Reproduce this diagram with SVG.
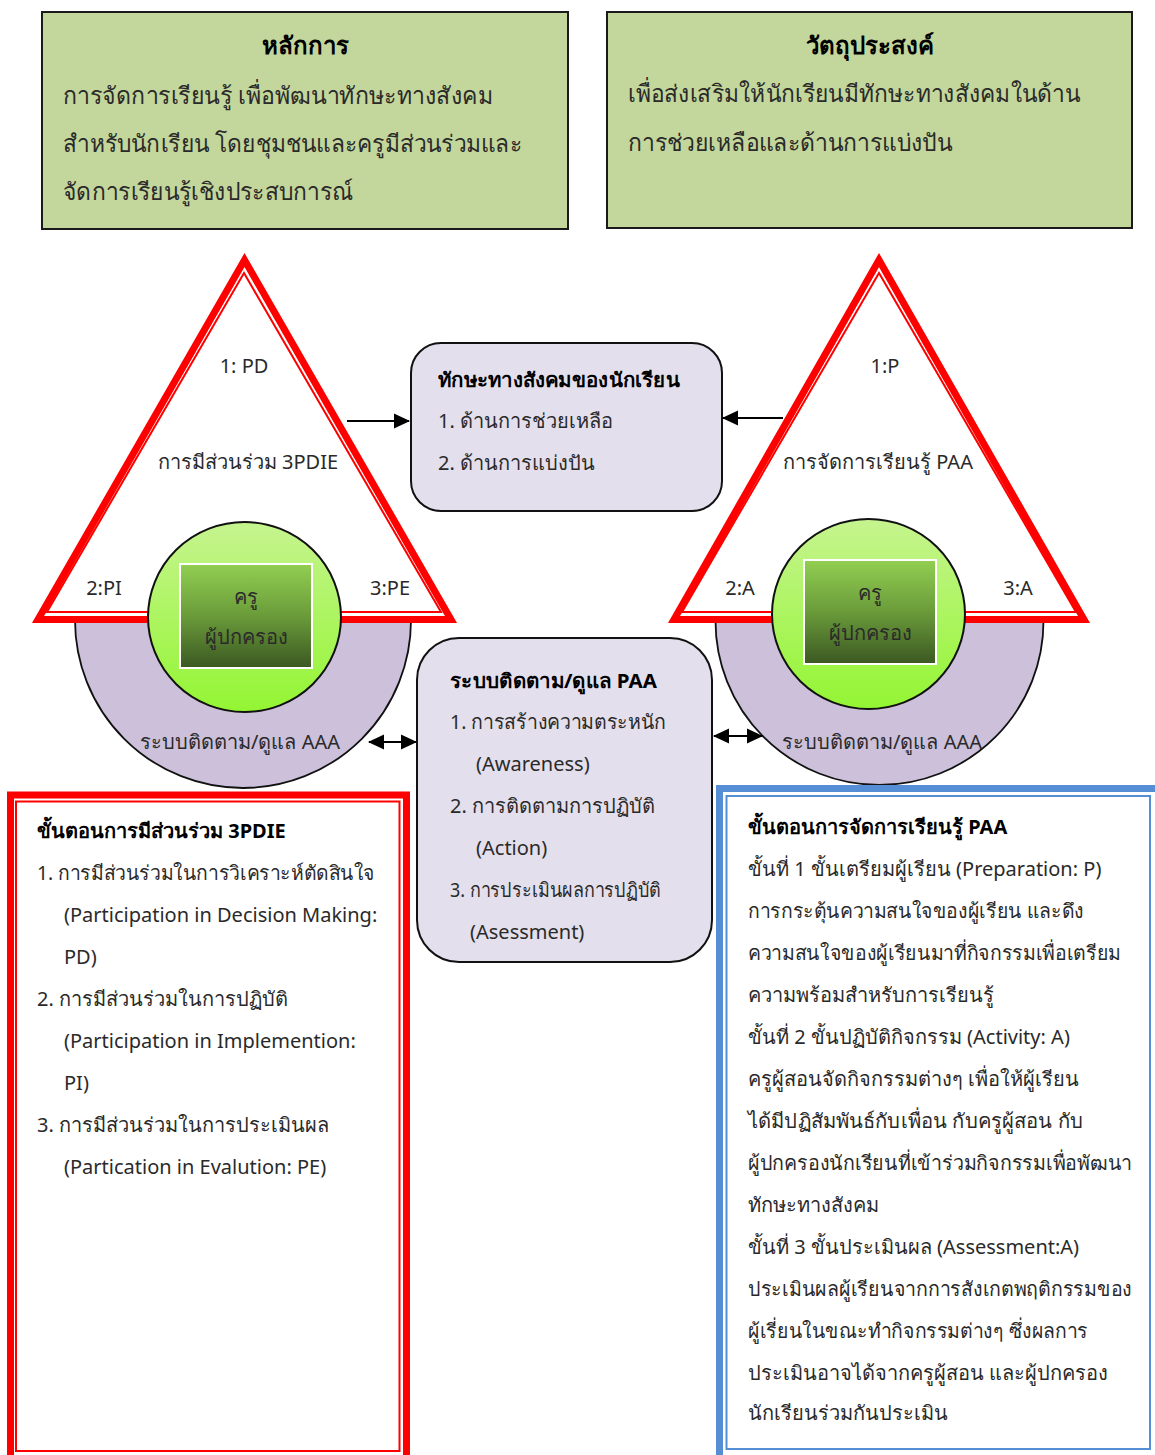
<svg xmlns="http://www.w3.org/2000/svg" width="1155" height="1455" viewBox="0 0 1155 1455">
<defs>
<style>
text{font-family:"Noto Sans","DejaVu Sans",sans-serif;fill:#2a2a2a}
.t24{font-size:24px}
.t20{font-size:20px}
.b{font-weight:bold;fill:#000}
.mid{text-anchor:middle}
.gbox{fill:#c3d69b;stroke:#1a1a1a;stroke-width:2}
.pbox{fill:#e4dfec;stroke:#111;stroke-width:2}
.purple{fill:#ccc0da;stroke:#111;stroke-width:1.8}
.tri{fill:#fff;stroke:#ff0000;stroke-width:7;stroke-linejoin:miter;stroke-miterlimit:10}
.tri2{fill:none;stroke:#ff0000;stroke-width:2}
.gcirc{fill:url(#gc);stroke:#111;stroke-width:2}
.gsq{fill:url(#gs);stroke:#fff;stroke-width:2}
.conn{stroke:#000;stroke-width:2;fill:none}
</style>
<linearGradient id="gc" x1="0" y1="0" x2="0" y2="1">
<stop offset="0" stop-color="#c6f48f"/>
<stop offset="1" stop-color="#93f533"/>
</linearGradient>
<linearGradient id="gs" x1="0" y1="0" x2="0" y2="1">
<stop offset="0" stop-color="#92cf52"/>
<stop offset="0.5" stop-color="#6a9b3a"/>
<stop offset="1" stop-color="#3b5822"/>
</linearGradient>
<marker id="ah" markerUnits="userSpaceOnUse" markerWidth="16" markerHeight="16" viewBox="0 0 16 16" refX="15" refY="8" orient="auto-start-reverse">
<path d="M0,0.5 L16,8 L0,15.5 Z" fill="#000"/>
</marker>
</defs>

<g id="principle">
<rect class="gbox" x="42" y="12" width="526" height="217"/>
<text class="t24 b mid" x="305" y="54">หลักการ</text>
<text class="t24" x="63" y="104" textLength="430" lengthAdjust="spacingAndGlyphs">การจัดการเรียนรู้ เพื่อพัฒนาทักษะทางสังคม</text>
<text class="t24" x="63" y="152" textLength="459" lengthAdjust="spacingAndGlyphs">สำหรับนักเรียน โดยชุมชนและครูมีส่วนร่วมและ</text>
<text class="t24" x="63" y="200" textLength="290" lengthAdjust="spacingAndGlyphs">จัดการเรียนรู้เชิงประสบการณ์</text>
</g>

<g id="objective">
<rect class="gbox" x="607" y="12" width="525" height="216"/>
<text class="t24 b mid" x="870" y="54">วัตถุประสงค์</text>
<text class="t24" x="628" y="102" textLength="452" lengthAdjust="spacingAndGlyphs">เพื่อส่งเสริมให้นักเรียนมีทักษะทางสังคมในด้าน</text>
<text class="t24" x="628" y="151" textLength="324" lengthAdjust="spacingAndGlyphs">การช่วยเหลือและด้านการแบ่งปัน</text>
</g>

<g id="left-pyramid">
<circle class="purple" cx="243" cy="620" r="168"/>
<polygon class="tri" points="244.5,260 38,619.5 451,619.5"/>
<polygon class="tri2" points="244,273 47,612 441,612"/>
<ellipse class="gcirc" cx="244.5" cy="617" rx="96.5" ry="95"/>
<rect class="gsq" x="180" y="564" width="132" height="104"/>
<text class="t20 mid" x="246" y="604">ครู</text>
<text class="t20 mid" x="246" y="644">ผู้ปกครอง</text>
<text class="t20 mid" x="244" y="373">1: PD</text>
<text class="t20 mid" x="248" y="469">การมีส่วนร่วม 3PDIE</text>
<text class="t20 mid" x="104" y="595">2:PI</text>
<text class="t20 mid" x="390" y="595">3:PE</text>
<text class="t20 mid" x="240" y="749">ระบบติดตาม/ดูแล AAA</text>
</g>

<g id="right-pyramid">
<circle class="purple" cx="879.5" cy="621" r="164"/>
<polygon class="tri" points="879,260 674,619.5 1084,619.5"/>
<polygon class="tri2" points="879,273 682,612 1076,612"/>
<ellipse class="gcirc" cx="868.5" cy="614" rx="96.5" ry="95"/>
<rect class="gsq" x="804" y="560" width="132" height="104"/>
<text class="t20 mid" x="870" y="600">ครู</text>
<text class="t20 mid" x="870" y="640">ผู้ปกครอง</text>
<text class="t20 mid" x="885" y="373">1:P</text>
<text class="t20 mid" x="878" y="469">การจัดการเรียนรู้ PAA</text>
<text class="t20 mid" x="740" y="595">2:A</text>
<text class="t20 mid" x="1018" y="595">3:A</text>
<text class="t20 mid" x="882" y="749">ระบบติดตาม/ดูแล AAA</text>
</g>

<g id="social-skills">
<rect class="pbox" x="411" y="343" width="311" height="168" rx="30"/>
<text class="t20 b" x="438" y="387" textLength="242" lengthAdjust="spacingAndGlyphs">ทักษะทางสังคมของนักเรียน</text>
<text class="t20" x="438" y="428">1. ด้านการช่วยเหลือ</text>
<text class="t20" x="438" y="470">2. ด้านการแบ่งปัน</text>
</g>

<g id="monitoring-paa">
<rect class="pbox" x="417" y="638" width="295" height="324" rx="42"/>
<text class="t20 b" x="450" y="688" textLength="207" lengthAdjust="spacingAndGlyphs">ระบบติดตาม/ดูแล PAA</text>
<text class="t20" x="450" y="729" textLength="216" lengthAdjust="spacingAndGlyphs">1. การสร้างความตระหนัก</text>
<text class="t20" x="476" y="771">(Awareness)</text>
<text class="t20" x="450" y="813">2. การติดตามการปฏิบัติ</text>
<text class="t20" x="476" y="855">(Action)</text>
<text class="t20" x="450" y="897" textLength="211" lengthAdjust="spacingAndGlyphs">3. การประเมินผลการปฏิบัติ</text>
<text class="t20" x="470" y="939">(Asessment)</text>
</g>

<g id="steps-3pdie">
<rect x="10.5" y="795" width="396" height="700" fill="#fff" stroke="#ff0000" stroke-width="7"/>
<rect x="16" y="801.5" width="383.5" height="649.5" fill="none" stroke="#ff0000" stroke-width="2"/>
<text class="t20 b" x="37" y="838">ขั้นตอนการมีส่วนร่วม 3PDIE</text>
<text class="t20" x="37" y="880" textLength="338" lengthAdjust="spacingAndGlyphs">1. การมีส่วนร่วมในการวิเคราะห์ตัดสินใจ</text>
<text class="t20" x="64" y="922">(Participation in Decision Making:</text>
<text class="t20" x="64" y="964">PD)</text>
<text class="t20" x="37" y="1006">2. การมีส่วนร่วมในการปฏิบัติ</text>
<text class="t20" x="64" y="1048">(Participation in Implemention:</text>
<text class="t20" x="64" y="1090">PI)</text>
<text class="t20" x="37" y="1132">3. การมีส่วนร่วมในการประเมินผล</text>
<text class="t20" x="64" y="1174">(Partication in Evalution: PE)</text>
</g>

<g id="steps-paa">
<rect x="719.5" y="788.5" width="500" height="700" fill="#fff" stroke="#558ed5" stroke-width="7"/>
<rect x="726.5" y="796" width="423.5" height="653" fill="none" stroke="#558ed5" stroke-width="2"/>
<text class="t20 b" x="748" y="834">ขั้นตอนการจัดการเรียนรู้ PAA</text>
<text class="t20" x="748" y="876">ขั้นที่ 1 ขั้นเตรียมผู้เรียน (Preparation: P)</text>
<text class="t20" x="748" y="918" textLength="336" lengthAdjust="spacingAndGlyphs">การกระตุ้นความสนใจของผู้เรียน และดึง</text>
<text class="t20" x="748" y="960" textLength="373" lengthAdjust="spacingAndGlyphs">ความสนใจของผู้เรียนมาที่กิจกรรมเพื่อเตรียม</text>
<text class="t20" x="748" y="1002">ความพร้อมสำหรับการเรียนรู้</text>
<text class="t20" x="748" y="1044">ขั้นที่ 2 ขั้นปฏิบัติกิจกรรม (Activity: A)</text>
<text class="t20" x="748" y="1086">ครูผู้สอนจัดกิจกรรมต่างๆ เพื่อให้ผู้เรียน</text>
<text class="t20" x="748" y="1128" textLength="335" lengthAdjust="spacingAndGlyphs">ได้มีปฏิสัมพันธ์กับเพื่อน กับครูผู้สอน กับ</text>
<text class="t20" x="748" y="1170" textLength="384" lengthAdjust="spacingAndGlyphs">ผู้ปกครองนักเรียนที่เข้าร่วมกิจกรรมเพื่อพัฒนา</text>
<text class="t20" x="748" y="1212">ทักษะทางสังคม</text>
<text class="t20" x="748" y="1254">ขั้นที่ 3 ขั้นประเมินผล (Assessment:A)</text>
<text class="t20" x="748" y="1296" textLength="384" lengthAdjust="spacingAndGlyphs">ประเมินผลผู้เรียนจากการสังเกตพฤติกรรมของ</text>
<text class="t20" x="748" y="1338" textLength="340" lengthAdjust="spacingAndGlyphs">ผู้เรี่ยนในขณะทำกิจกรรมต่างๆ ซึ่งผลการ</text>
<text class="t20" x="748" y="1380">ประเมินอาจได้จากครูผู้สอน และผู้ปกครอง</text>
<text class="t20" x="748" y="1420">นักเรียนร่วมกันประเมิน</text>
</g>

<g id="connectors">
<line class="conn" x1="347" y1="421" x2="409" y2="421" marker-end="url(#ah)"/>
<line class="conn" x1="783" y1="418" x2="723" y2="418" marker-end="url(#ah)"/>
<line class="conn" x1="369" y1="742" x2="416" y2="742" marker-start="url(#ah)" marker-end="url(#ah)"/>
<line class="conn" x1="714" y1="736" x2="762" y2="736" marker-start="url(#ah)" marker-end="url(#ah)"/>
</g>
</svg>
